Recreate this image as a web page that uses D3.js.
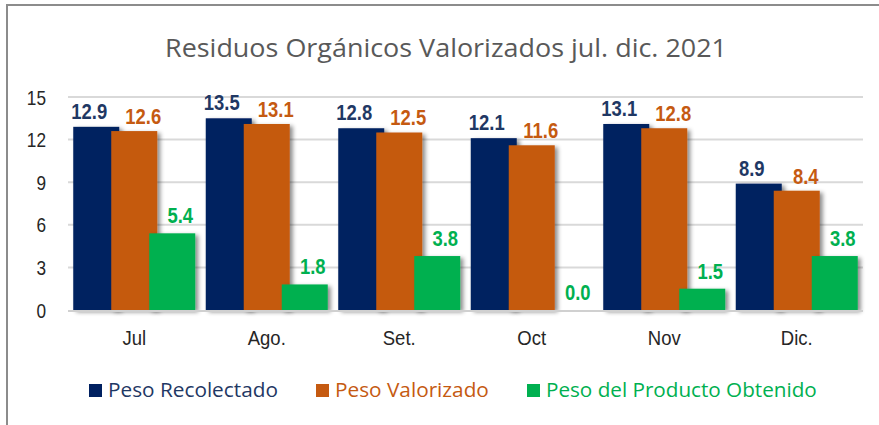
<!DOCTYPE html>
<html>
<head>
<meta charset="utf-8">
<script src="https://cdn.jsdelivr.net/npm/d3@7"></script>
<style>
  html, body { margin: 0; padding: 0; background: #fff; }
  svg { display: block; }
</style>
</head>
<body>
<svg id="chart" width="879" height="425"></svg>
<script>
// Monthly figures (toneladas), July–December 2021
const months = ["Jul", "Ago.", "Set.", "Oct", "Nov", "Dic."];
const seriesNames = ["Peso Recolectado", "Peso Valorizado", "Peso del Producto Obtenido"];
const pesoRecolectado = [12.9, 13.5, 12.8, 12.1, 13.1, 8.9];
const pesoValorizado = [12.6, 13.1, 12.5, 11.6, 12.8, 8.4];
const pesoProducto = [5.4, 1.8, 3.8, 0.0, 1.5, 3.8];
const yTicks = [0, 3, 6, 9, 12, 15];
const titleText = "Residuos Orgánicos Valorizados jul. dic. 2021";

const seriesValues = [pesoRecolectado, pesoValorizado, pesoProducto];
const barColors = ["#002060", "#C55A11", "#00B050"];
const labelColors = ["#1F3864", "#C55A11", "#00B050"];
const legendTextColors = ["#1F3864", "#C55A11", "#00B050"];

const svg = d3.select("#chart");

// outer chart frame (only top and left edges fall inside the view)
svg.append("rect")
  .attr("x", 7).attr("y", 5).attr("width", 1000).attr("height", 1000)
  .attr("fill", "#fff").attr("stroke", "#8c8c8c").attr("stroke-width", 2);

const defs = svg.append("defs");
const f = defs.append("filter").attr("id", "shadow")
  .attr("x", "-20%").attr("y", "-20%").attr("width", "150%").attr("height", "150%");
f.append("feDropShadow").attr("dx", 3).attr("dy", 2).attr("stdDeviation", 2)
  .attr("flood-color", "#000").attr("flood-opacity", 0.45);

const plot = { left: 68, right: 863, top: 97, bottom: 310 };

const x = d3.scaleBand().domain(months).range([plot.left, plot.right]).padding(0);
const y = d3.scaleLinear().domain([0, 15]).range([plot.bottom, plot.top]);

// horizontal squeeze around an anchor x, emulating a condensed face
function squeeze(sel, k) {
  sel.each(function () {
    const ax = +this.getAttribute("x");
    this.setAttribute("transform", `translate(${ax},0) scale(${k},1) translate(${-ax},0)`);
  });
}
const narrowFamily = "'Liberation Sans', Arial, sans-serif";
const NARROW = 0.82;

// horizontal gridlines
svg.append("g").selectAll("line").data(yTicks.filter(t => t > 0)).join("line")
  .attr("x1", plot.left).attr("x2", plot.right)
  .attr("y1", d => y(d)).attr("y2", d => y(d))
  .attr("stroke", "#d9d9d9").attr("stroke-width", 2);

// y tick labels
svg.append("g").selectAll("text").data(yTicks).join("text")
  .attr("x", 46).attr("y", d => y(d))
  .attr("dy", "0.36em")
  .attr("text-anchor", "end")
  .attr("font-family", narrowFamily)
  .attr("font-size", 21)
  .attr("fill", "#262626")
  .text(d => d)
  .call(squeeze, NARROW);

// bars: three per month, slightly overlapping
const barW = 46, barStep = 38;
const groupW = barW + barStep * 2;
const groupOffset = (x.bandwidth() - groupW) / 2;

const barsG = svg.append("g");
seriesValues.forEach((vals, s) => {
  barsG.append("g").selectAll("rect").data(vals.map((v, i) => ({ v, m: months[i] }))).join("rect")
    .attr("x", d => x(d.m) + groupOffset + s * barStep)
    .attr("y", d => y(d.v))
    .attr("width", barW)
    .attr("height", d => y(0) - y(d.v))
    .attr("fill", barColors[s])
    .attr("filter", "url(#shadow)");
});

// baseline
svg.append("line")
  .attr("x1", plot.left).attr("x2", plot.right)
  .attr("y1", y(0) + 1).attr("y2", y(0) + 1)
  .attr("stroke", "#d0d0d0").attr("stroke-width", 2);

// value labels
const labelDx = [-7, 9, 8];
const labelGap = [8, 7, 10];
const labelsG = svg.append("g");
seriesValues.forEach((vals, s) => {
  labelsG.append("g").selectAll("text").data(vals.map((v, i) => ({ v, m: months[i] }))).join("text")
    .attr("x", d => x(d.m) + groupOffset + s * barStep + barW / 2 + labelDx[s])
    .attr("y", d => y(d.v) - labelGap[s])
    .attr("text-anchor", "middle")
    .attr("font-family", narrowFamily)
    .attr("font-weight", "bold")
    .attr("font-size", 22.5)
    .attr("fill", labelColors[s])
    .text(d => d.v.toFixed(1))
    .call(squeeze, NARROW);
});

// category labels
svg.append("g").selectAll("text").data(months).join("text")
  .attr("x", d => x(d) + x.bandwidth() / 2)
  .attr("y", 345)
  .attr("text-anchor", "middle")
  .attr("font-family", "'Liberation Sans', Arial, sans-serif")
  .attr("font-size", 19.5)
  .attr("fill", "#262626")
  .text(d => d)
  .call(squeeze, 0.95);

// fit a text element horizontally to a given width, keeping its height
function fitWidth(sel, targetW, anchorX) {
  const w = sel.node().getComputedTextLength();
  const k = targetW / w;
  sel.attr("transform", `translate(${anchorX},0) scale(${k},1) translate(${-anchorX},0)`);
}

// title
const title = svg.append("text")
  .attr("x", 446).attr("y", 57)
  .attr("text-anchor", "middle")
  .attr("font-family", "'Open Sans', 'Noto Sans', sans-serif")
  .attr("font-size", 25.5)
  .attr("fill", "#595959")
  .text(titleText);
fitWidth(title, 562, 446);

// legend
const legendX = [89, 316, 527];
const legendTextW = [170, 154, 271];
const legend = svg.append("g");
seriesNames.forEach((name, s) => {
  legend.append("rect")
    .attr("x", legendX[s]).attr("y", 384)
    .attr("width", 13).attr("height", 13)
    .attr("fill", barColors[s]);
  const tx = legendX[s] + 19;
  const t = legend.append("text")
    .attr("x", tx).attr("y", 397)
    .attr("font-family", "'Open Sans', 'Noto Sans', sans-serif")
    .attr("font-size", 19.5)
    .attr("fill", legendTextColors[s])
    .text(name);
  fitWidth(t, legendTextW[s], tx);
});
</script>
</body>
</html>
